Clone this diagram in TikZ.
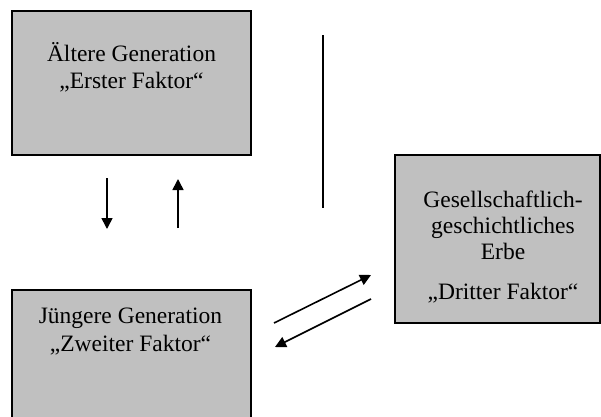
\documentclass[tikz,border=0pt]{standalone}
\usepackage{fontspec}
\setmainfont{Liberation Serif}
\usetikzlibrary{arrows.meta}
\definecolor{boxgray}{HTML}{C0C0C0}
\begin{document}
\begin{tikzpicture}[x=1pt,y=-1pt,
  factorbox/.style={draw=black,line width=2pt,fill=boxgray},
  label/.style={font=\fontsize{23.5}{27}\selectfont,align=center,inner sep=0pt,anchor=base},
  flow/.style={line width=1.6pt,-{Triangle[length=11pt,width=11pt]}}]
\useasboundingbox (0,0) rectangle (601,416);
% the three factor boxes
\draw[factorbox] (12,11) rectangle (251,155);
\draw[factorbox] (12,290) rectangle (251,430);
\draw[factorbox] (395,155) rectangle (600,323);
% box texts
\node[label] (erst1) at (131.5,61) {Ältere Generation};
\node[label] (erst2) at (131.5,88) {„Erster Faktor“};
\node[label] (zweit1) at (130.5,323.5) {Jüngere Generation};
\node[label] (zweit2) at (130.5,351) {„Zweiter Faktor“};
\node[label] (dritt1) at (503,207) {Gesellschaftlich-};
\node[label] (dritt2) at (503,233) {geschichtliches};
\node[label] (dritt3) at (503,259) {Erbe};
\node[label] (dritt4) at (503,299) {„Dritter Faktor“};
% connector endpoints
\coordinate (downA) at (107,178);
\coordinate (downB) at (107,229);
\coordinate (upA) at (178,228);
\coordinate (upB) at (178,179);
\coordinate (sepA) at (323,35);
\coordinate (sepB) at (323,208);
\coordinate (toA) at (274,323);
\coordinate (toB) at (371,275);
\coordinate (backA) at (371,299);
\coordinate (backB) at (275,347);
% arrows and divider
\draw[flow] (downA) -- (downB);
\draw[flow] (upA) -- (upB);
\draw[line width=2.7pt] (sepA) -- (sepB);
\draw[flow] (toA) -- (toB);
\draw[flow] (backA) -- (backB);
\end{tikzpicture}
\end{document}
